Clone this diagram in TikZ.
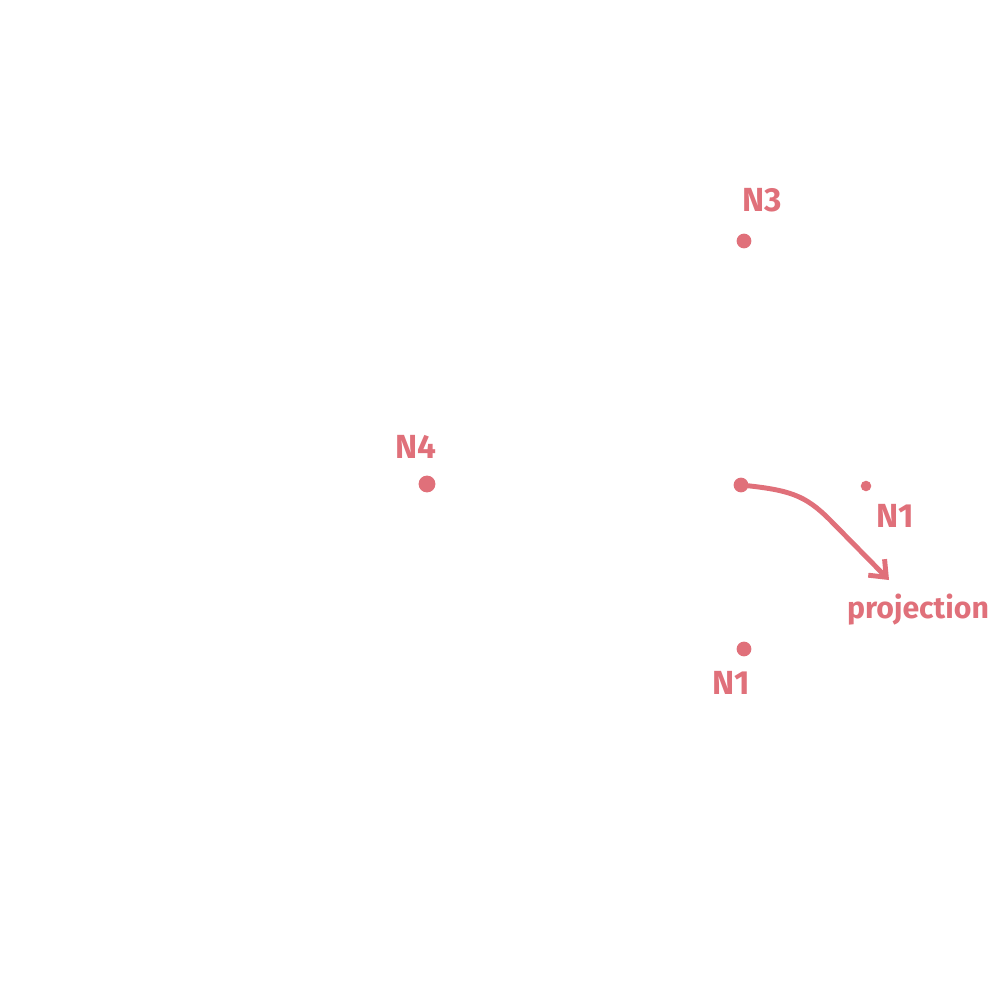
\documentclass[tikz,border=0pt]{standalone}
\usepackage{fontspec}
\setmainfont{Fira Sans}
\usetikzlibrary{arrows.meta,positioning}
\definecolor{SketchRose}{HTML}{E0707A}

\begin{document}
\begin{tikzpicture}[x=0.01cm,y=-0.01cm,
    pt/.style={circle,fill=SketchRose,inner sep=0pt,minimum size=#1},
    lbl/.style={text=SketchRose,font=\fontsize{9.5}{11}\selectfont\bfseries,inner sep=0pt}]
      \useasboundingbox (0,0) rectangle (1000,1000);
      % points
      \node[pt=4.2pt] (nthree) at (744,241) {};
      \node[pt=4.8pt] (nfour) at (427,484) {};
      \node[pt=4.2pt] (ctr) at (741,485) {};
      \node[pt=3pt] (none) at (866,486) {};
      \node[pt=4.2pt] (nbot) at (744,649) {};
      % labels
      \node[lbl] (lthree) at (762,200) {N3};
      \node[lbl] (lfour) at (416,447) {N4};
      \node[lbl] (lone) at (895,516) {N1};
      \node[lbl] (lbot) at (731,683) {N1};
      \node[lbl,font=\fontsize{8.6}{10}\selectfont\bfseries] (lproj) at (918,610) {projection};
      % arrow
      \coordinate (tip) at (889,580);
      \draw[SketchRose,line width=1.4pt,line cap=round,
        -{Straight Barb[length=4pt,width=6.5pt,line width=1.4pt]}]
        (ctr.center) .. controls (790,490) and (805,495) .. (830,520) -- (tip);
    \end{tikzpicture}
\end{document}
